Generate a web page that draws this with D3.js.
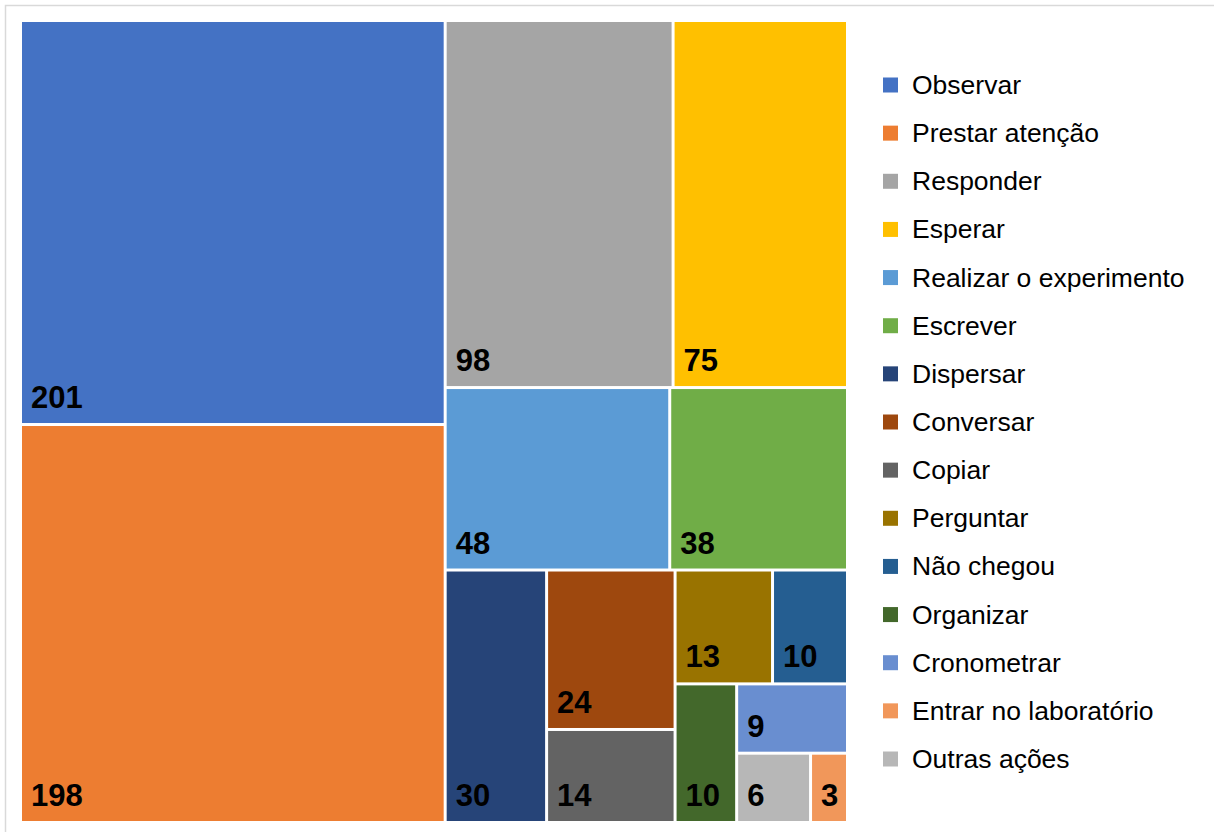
<!DOCTYPE html>
<html>
<head>
<meta charset="utf-8">
<script src="https://cdn.jsdelivr.net/npm/d3@7"></script>
<style>
  body { margin: 0; background: #fff; }
  text { font-family: "Liberation Sans", Arial, sans-serif; }
</style>
</head>
<body>
<script>
var categories = ["Observar", "Prestar atenção", "Responder", "Esperar", "Realizar o experimento",
    "Escrever", "Dispersar", "Conversar", "Copiar", "Perguntar", "Não chegou", "Organizar",
    "Cronometrar", "Entrar no laboratório", "Outras ações"];
var values = [201, 198, 98, 75, 48, 38, 30, 24, 14, 13, 10, 10, 9, 3, 6];
var colors = ["#4472C4", "#ED7D31", "#A5A5A5", "#FFC000", "#5B9BD5", "#70AD47", "#264478",
    "#9E480E", "#636363", "#997300", "#255E91", "#43682B", "#698ED0", "#F1975A", "#B7B7B7"];

var width = 1214, height = 832;
var plot = { x: 22, y: 22, w: 824, h: 799 };

// squarified tiling, excel style: the target shape is a bit taller than square
var target = 0.79;
function excelTile(parent, x0, y0, x1, y1) {
    var nodes = parent.children, n = nodes.length;
    var value = parent.value, i0 = 0;
    while (i0 < n) {
        var dx = x1 - x0, dy = y1 - y0;
        var dice = dx < dy;
        var side = dice ? dx : dy;
        var unit = dx * dy / value;
        var worst = function(sum, a, b) {
            var thick = sum * unit / side, w = 0;
            for (var k = a; k < b; k++) {
                var len = nodes[k].value * unit / thick;
                var ar = dice ? len / thick : thick / len;
                w = Math.max(w, ar / target, target / ar);
            }
            return w;
        };
        var i1 = i0 + 1, sum = nodes[i0].value, best = worst(sum, i0, i1);
        while (i1 < n) {
            var s2 = sum + nodes[i1].value;
            var w2 = worst(s2, i0, i1 + 1);
            if (w2 > best) break;
            best = w2; sum = s2; i1++;
        }
        var row = { children: nodes.slice(i0, i1), value: sum };
        if (dice) {
            var hh = value ? sum / value * dy : 0;
            d3.treemapDice(row, x0, y0, x1, y0 + hh);
            y0 += hh;
        } else {
            var ww = value ? sum / value * dx : 0;
            d3.treemapSlice(row, x0, y0, x0 + ww, y1);
            x0 += ww;
        }
        value -= sum;
        i0 = i1;
    }
}

var items = categories.map((c, i) => ({ name: c, value: values[i], color: colors[i] }));

var root = d3.hierarchy({ children: items })
    .sum(d => d.value || 0)
    .sort((a, b) => b.value - a.value);

d3.treemap()
    .tile(excelTile)
    .size([plot.w, plot.h])
    .paddingInner(3)
    .round(false)(root);

var svg = d3.select('body')
    .append('svg')
    .attr('width', width)
    .attr('height', height);

svg.append('rect')
    .attr('x', 5.5).attr('y', 5.5)
    .attr('width', 1230).attr('height', 850)
    .attr('fill', 'none')
    .attr('stroke', '#d9d9d9')
    .attr('stroke-width', 1.5);

var cells = svg.append('g')
    .attr('transform', `translate(${plot.x},${plot.y})`)
    .selectAll('g')
    .data(root.leaves())
    .enter()
    .append('g')
    .attr('transform', d => `translate(${d.x0},${d.y0})`);

cells.append('rect')
    .attr('width', d => d.x1 - d.x0)
    .attr('height', d => d.y1 - d.y0)
    .attr('fill', d => d.data.color);

cells.append('text')
    .text(d => d.data.value)
    .attr('x', 9)
    .attr('y', d => d.y1 - d.y0 - 15)
    .attr('font-size', '31px')
    .attr('font-weight', 'bold')
    .attr('fill', '#000');

// legend
var legendY = d3.scalePoint()
    .domain(categories)
    .range([85, 759]);

var leg = svg.append('g')
    .selectAll('g')
    .data(items)
    .enter()
    .append('g')
    .attr('transform', d => `translate(883,${legendY(d.name)})`);

leg.append('rect')
    .attr('x', 0).attr('y', -7.5)
    .attr('width', 15).attr('height', 15)
    .attr('fill', d => d.color);

leg.append('text')
    .text(d => d.name)
    .attr('x', 29)
    .attr('y', 9)
    .attr('font-size', '26.5px')
    .attr('fill', '#000');
</script>
</body>
</html>
